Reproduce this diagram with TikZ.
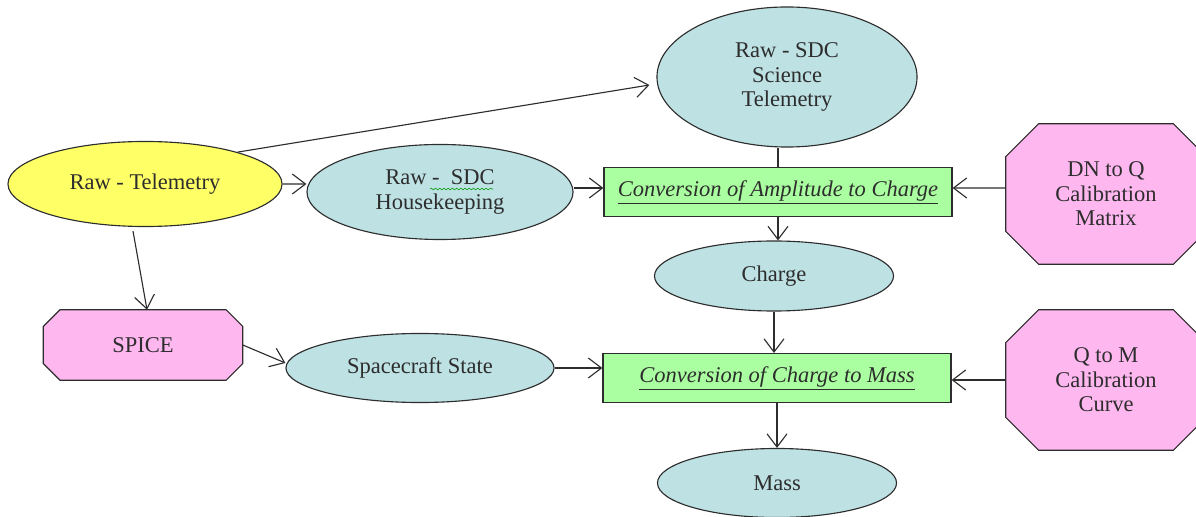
\documentclass[tikz,border=0pt]{standalone}
\usepackage{fontspec}
\setmainfont{Liberation Serif}
\newfontfamily\diagserif{Liberation Serif}
\usepackage{tikz}
\usetikzlibrary{shapes.geometric,arrows.meta,decorations.pathmorphing,backgrounds}
\definecolor{rawyellow}{RGB}{255,255,102}
\definecolor{datablue}{RGB}{190,225,228}
\definecolor{calpink}{RGB}{255,183,240}
\definecolor{procgreen}{RGB}{170,255,160}
\definecolor{inkgray}{RGB}{45,45,45}

\begin{document}
\begin{tikzpicture}[x=0.025cm, y=-0.025cm, font=\diagserif\fontsize{16}{17.5}\selectfont]
                \tikzstyle{datael} = [ellipse, draw=inkgray, line width=0.8pt, fill=datablue, inner sep=0pt, align=center, text=inkgray]
                \tikzstyle{rawel} = [datael, fill=rawyellow]
                \tikzstyle{procbox} = [rectangle, draw=inkgray, line width=0.8pt, fill=procgreen, minimum width=8.7cm, minimum height=1.225cm, text=inkgray]
                \tikzstyle{calbox} = [rectangle, inner sep=0pt, align=center, text=inkgray]
                \tikzstyle{flow} = [draw=inkgray, line width=0.8pt, -{Straight Barb[length=0.33cm, width=0.5cm]}]
                \tikzstyle{link} = [draw=inkgray, line width=0.8pt]
                \useasboundingbox (0,0) rectangle (1196,517);
                % data products
                \node[rawel, minimum width=6.85cm, minimum height=2.125cm] (rawtm) at (145,184) {Raw - Telemetry};
                \node[datael, minimum width=6.5cm, minimum height=3.5cm] (scitm) at (787,77) {Raw - SDC\\Science\\Telemetry};
                \node[datael, minimum width=6.65cm, minimum height=2.375cm] (hk) at (440,192) {Raw -\ \ SDC\\Housekeeping};
                \node[datael, minimum width=5.975cm, minimum height=1.75cm] (charge) at (774,276) {Charge};
                \node[datael, minimum width=6.7cm, minimum height=1.725cm] (scstate) at (420,368) {Spacecraft State};
                \node[datael, minimum width=5.975cm, minimum height=1.725cm] (mass) at (777,483) {Mass};
                % calibration inputs
                \node[calbox, minimum width=4.975cm, minimum height=1.75cm] (spice) at (143,345) {SPICE};
                \node[calbox, minimum width=5cm, minimum height=3.5cm] (dnq) at (1106,194) {DN to Q\\Calibration\\Matrix};
                \node[calbox, minimum width=5cm, minimum height=3.5cm] (qm) at (1106,380) {Q to M\\Calibration\\Curve};
                \begin{scope}[on background layer]
                    \foreach \n/\c in {spice/0.42, dnq/0.825, qm/0.825} {
                        \filldraw[draw=inkgray, line width=0.8pt, fill=calpink]
                            ([xshift=\c cm]\n.north west) -- ([xshift=-\c cm]\n.north east)
                            -- ([yshift=-\c cm]\n.north east) -- ([yshift=\c cm]\n.south east)
                            -- ([xshift=-\c cm]\n.south east) -- ([xshift=\c cm]\n.south west)
                            -- ([yshift=\c cm]\n.south west) -- ([yshift=-\c cm]\n.north west) -- cycle;
                    }
                \end{scope}
                % processing steps
                \node[procbox] (convA) at (778,192) {\underline{\textit{Conversion of Amplitude to Charge}}};
                \node[procbox] (convM) at (777,378) {\underline{\textit{Conversion of Charge to Mass}}};
                % spell check mark
                \draw[green!60!black, line width=0.4pt, decorate, decoration={snake, amplitude=0.6pt, segment length=3pt}] ([shift={(-10,-3)}]hk.center) -- ([shift={(53,-3)}]hk.center);
                % connectors
                \draw[flow] (rawtm.19) -- ([xshift=-0.175cm, yshift=-0.2cm]scitm.west);
                \draw[flow] (rawtm.east) -- ([yshift=0.2cm]hk.west);
                \draw[flow] ([xshift=-0.3cm, yshift=-0.1cm]rawtm.south) -- ([xshift=0.1cm]spice.north);
                \draw[flow] ([yshift=0.1cm]hk.east) -- ([yshift=0.1cm]convA.west);
                \draw[link] (convA.north |- scitm.south) -- (convA.north);
                \draw[flow] ([yshift=0.15cm]dnq.west) -- ([yshift=0.1cm]convA.east);
                \draw[flow] (convA.south) -- (convA.south |- charge.north);
                \draw[flow] (charge.south) -- (charge.south |- convM.north);
                \draw[flow] (spice.east) -- ([yshift=0.125cm]scstate.west);
                \draw[flow] (scstate.east) -- (scstate.east -| convM.west);
                \draw[flow] (qm.west) -- (qm.west -| convM.east);
                \draw[flow] (convM.south) -- (convM.south |- mass.north);
\end{tikzpicture}
\end{document}
